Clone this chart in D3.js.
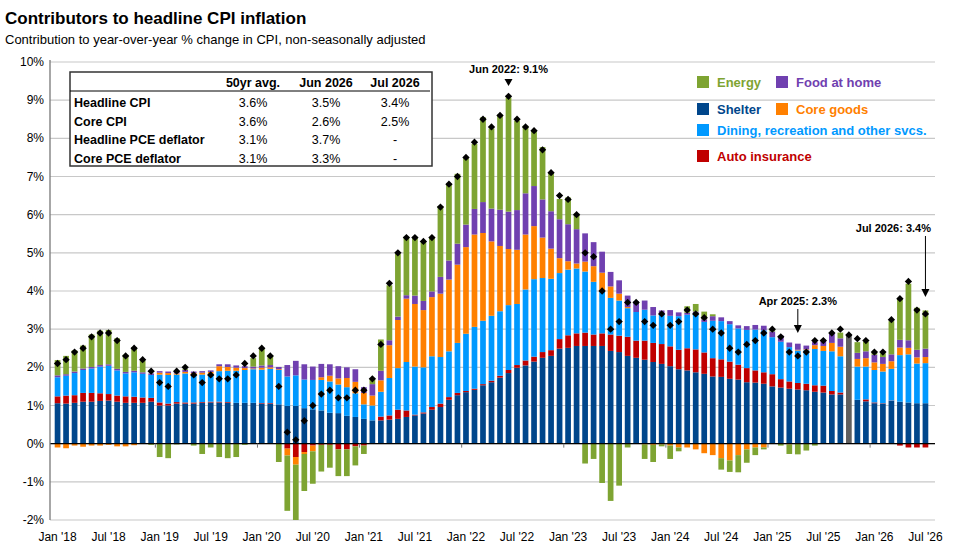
<!DOCTYPE html>
<html>
<head>
<meta charset="utf-8">
<script src="https://cdn.jsdelivr.net/npm/d3@7"></script>
<style>
  body { margin: 0; background: #fff; font-family: "Liberation Sans", Arial, sans-serif; }
</style>
</head>
<body>
<svg id="chart" width="963" height="559"></svg>
<script>
// monthly contributions (pp), Jan 2018 .. Jul 2026
var shelter = [
  1.06,1.05,1.07,1.1,1.1,1.12,1.13,1.1,1.07,1.07,1.07,1.1,
  1.0,1.0,1.05,1.05,1.05,1.07,1.08,1.08,1.07,1.07,1.07,1.07,
  1.04,1.04,1.03,0.99,0.99,0.93,0.9,0.87,0.81,0.8,0.73,0.7,
  0.65,0.61,0.61,0.63,0.65,0.7,0.74,0.79,0.89,0.96,1.15,1.27,
  1.35,1.41,1.53,1.61,1.73,1.85,1.99,2.05,2.15,2.25,2.3,2.49,
  2.51,2.56,2.56,2.56,2.56,2.43,2.4,2.3,2.25,2.2,2.14,2.09,
  2.03,1.95,1.92,1.87,1.83,1.76,1.75,1.7,1.68,1.61,1.6,1.57,
  1.5,1.47,1.44,1.42,1.4,1.36,1.34,1.29,1.29,0,1.15,1.11,
  1.06,1.05,1.12,1.1,1.08,1.06,1.06];
var autoIns = [
  .18,.21,.2,.23,.23,.2,.17,.16,.17,.16,.14,.1,
  .08,.05,.04,.03,.03,.02,.02,.02,.02,0,0,0,
  .02,.02,0,-.13,-.35,-.22,-.05,-.03,-.03,-.15,-.15,-.07,
  -.05,0,.1,.11,.24,.17,.02,.03,.07,.09,.07,.06,
  .03,.03,.03,.04,.05,.08,.07,.13,.13,.15,.15,.25,
  .33,.33,.35,.3,.33,.43,.43,.5,.45,.5,.5,.52,
  .52,.51,.58,.6,.56,.48,.46,.45,.39,.37,.32,.3,
  .32,.22,.19,.17,.17,.17,.18,.09,.05,0,0,.05,
  .02,.01,.01,-.05,-.1,-.1,-.1];
var dining = [
  .5,.52,.58,.6,.64,.7,.74,.66,.6,.64,.62,.6,
  .73,.75,.72,.76,.72,.72,.73,.8,.82,.84,.86,.88,
  .88,.9,.9,.77,.8,.75,.77,.8,.82,.75,.75,.62,
  .38,.39,.65,.98,1.09,1.27,1.26,1.18,1.33,1.22,1.2,1.31,
  1.5,1.62,1.66,1.7,1.69,1.7,1.6,1.86,2.03,1.94,1.87,1.73,
  1.72,1.7,1.6,1.38,1.09,.96,.92,.75,.75,.81,.72,.78,
  .8,.88,.88,.92,.8,.98,1.0,.98,.95,1.0,1.07,1.1,
  .97,.98,.9,.85,.88,.95,.91,1.04,.95,0,.87,.86,
  .85,.83,.83,1.22,1.26,1.04,1.05];
var coreGoods = [
  -.1,-.12,-.05,-.08,-.05,-.05,-.03,-.07,-.07,-.04,0,0,
  .05,.05,.03,.04,.05,.05,.05,.13,.1,.08,.05,.02,
  .05,.04,.02,-.18,-.2,-.05,-.15,.07,.15,.16,.24,.3,
  .3,.26,.3,.86,1.26,1.66,1.64,1.5,1.55,1.66,1.88,2.05,
  2.27,2.42,2.3,1.95,1.71,1.47,1.42,1.44,1.39,1.06,.79,.39,
  .22,.13,.26,.41,.5,.3,.18,.03,0,-.02,-.03,-.02,
  -.05,-.1,-.1,-.15,-.25,-.3,-.38,-.44,-.3,-.15,-.1,-.1,
  0,0,-.02,.02,.02,.1,.13,.22,.25,0,.2,.22,
  .2,.2,.2,.2,.17,.16,.16];
var foodHome = [
  .05,.04,.04,.04,.04,.04,.04,.04,.04,.04,.04,.04,
  .04,.04,.05,.05,.04,.04,.04,.05,.07,.06,.05,.05,
  .06,.06,.06,.3,.38,.4,.35,.35,.3,.32,.28,.33,
  .15,.3,.25,.13,.09,.09,.22,.24,.15,.44,.5,.55,
  .59,.67,.81,.86,.95,.98,1.04,1.08,1.05,1.0,.98,1.02,
  .97,.9,.74,.63,.55,.38,.35,.3,.28,.24,.22,.1,
  .15,.1,.05,.07,.07,.12,.1,.08,.08,.1,.12,.12,
  .15,.16,.12,.16,.1,.08,.13,.25,.22,0,.16,.18,
  .2,.18,.18,.2,.2,.2,.22];
var energy = [
  .4,.48,.55,.6,.85,.9,.9,.8,.45,.62,.3,-.03,
  -.35,-.38,-.02,.02,-.05,-.27,-.1,-.35,-.38,-.35,-.03,.22,
  .45,.25,-.48,-1.45,-1.45,-.97,-.85,-.7,-.6,-.7,-.7,-.5,
  -.22,.13,.82,1.44,1.64,1.53,1.53,1.54,1.42,1.85,2.02,1.83,
  1.74,1.7,2.22,2.1,2.49,2.99,2.34,1.77,1.47,1.37,1.0,.53,
  .7,.41,-.52,-.4,-1.03,-1.5,-1.1,-.1,0,-.38,-.45,-.05,
  -.35,-.1,.17,.2,.2,.05,-.3,-.3,-.45,-.35,-.2,-.05,
  .06,-.05,-.25,-.28,-.18,-.05,0,0,.15,0,.28,.25,
  .05,.1,.87,1.1,1.48,1.1,1.0];
// month with no component breakdown (Oct 2025)
var noBreakdown = { index: 93, value: 2.85 };
var headline = [
  2.1,2.2,2.4,2.5,2.8,2.9,2.9,2.7,2.3,2.5,2.2,1.9,
  1.6,1.5,1.9,2.0,1.8,1.6,1.8,1.7,1.7,1.8,2.1,2.3,
  2.5,2.3,1.5,0.3,0.1,0.6,1.0,1.3,1.4,1.2,1.2,1.4,
  1.4,1.7,2.6,4.2,5.0,5.4,5.4,5.3,5.4,6.2,6.8,7.0,
  7.5,7.9,8.5,8.3,8.6,9.1,8.5,8.3,8.2,7.7,7.1,6.5,
  6.4,6.0,5.0,4.9,4.0,3.0,3.2,3.7,3.7,3.2,3.1,3.4,
  3.1,3.2,3.5,3.4,3.3,3.0,2.9,2.5,2.4,2.6,2.7,2.9,
  3.0,2.8,2.4,2.3,2.4,2.7,2.7,2.9,3.0,2.85,2.75,2.7,
  2.4,2.4,3.25,3.8,4.25,3.5,3.4];

var yTicks = [-2,-1,0,1,2,3,4,5,6,7,8,9,10];
var tableCols = ['50yr avg.', 'Jun 2026', 'Jul 2026'];
var tableRows = ['Headline CPI', 'Core CPI', 'Headline PCE deflator', 'Core PCE deflator'];
var tableVals = [['3.6%','3.5%','3.4%'], ['3.6%','2.6%','2.5%'], ['3.1%','3.7%','-'], ['3.1%','3.3%','-']];

var series = [
  { name: 'Shelter', color: '#00468b', vals: shelter },
  { name: 'Auto insurance', color: '#c00000', vals: autoIns },
  { name: 'Dining, recreation and other svcs.', color: '#0099ff', vals: dining },
  { name: 'Core goods', color: '#ff8000', vals: coreGoods },
  { name: 'Food at home', color: '#7040b0', vals: foodHome },
  { name: 'Energy', color: '#7ea432', vals: energy }
];

var monthNames = ['Jan','Feb','Mar','Apr','May','Jun','Jul','Aug','Sep','Oct','Nov','Dec'];
var months = d3.range(headline.length);
function monthLabel(i) {
  return monthNames[i % 12] + " '" + String(18 + Math.floor(i / 12));
}

var svg = d3.select('#chart');
var plotL = 50, plotR = 935, plotT = 62, plotB = 520;

var x = d3.scaleBand().domain(months).range([plotL + 3, plotR - 5]).paddingInner(0.33).paddingOuter(0.2);
var y = d3.scaleLinear().domain([-2, 10]).range([plotB, plotT]);

// grid
svg.append('g').selectAll('line').data(yTicks).enter().append('line')
  .attr('x1', plotL).attr('x2', plotR)
  .attr('y1', function(d){ return y(d); }).attr('y2', function(d){ return y(d); })
  .attr('stroke', '#c8c8c8').attr('stroke-width', 1.2);

// y labels
svg.append('g').selectAll('text').data(yTicks).enter().append('text')
  .attr('x', plotL - 6).attr('y', function(d){ return y(d) + 4; })
  .attr('text-anchor', 'end').attr('font-size', 12).attr('fill', '#000')
  .text(function(d){ return d + '%'; });

// stacked bars, positives up and negatives down
var bars = svg.append('g');
months.forEach(function(i){
  var pos = 0, neg = 0;
  series.forEach(function(s){
    var v = s.vals[i];
    if (!v) return;
    var y0, y1;
    if (v > 0) { y0 = pos; y1 = pos + v; pos = y1; }
    else { y0 = neg + v; y1 = neg; neg = y0; }
    bars.append('rect')
      .attr('x', x(i)).attr('width', x.bandwidth())
      .attr('y', y(y1)).attr('height', y(y0) - y(y1))
      .attr('fill', s.color);
  });
});
bars.append('rect')
  .attr('x', x(noBreakdown.index)).attr('width', x.bandwidth())
  .attr('y', y(noBreakdown.value)).attr('height', y(0) - y(noBreakdown.value))
  .attr('fill', '#5f5f5f');

// axes
svg.append('line').attr('x1', plotL).attr('x2', plotR).attr('y1', y(0)).attr('y2', y(0))
  .attr('stroke', '#000').attr('stroke-width', 1.3);
svg.append('line').attr('x1', plotL).attr('x2', plotL).attr('y1', plotT - 2).attr('y2', plotB)
  .attr('stroke', '#777').attr('stroke-width', 1.3);

var xTicks = months.filter(function(i){ return i % 6 === 0; });
svg.append('g').selectAll('line').data(months.filter(function(i){ return i % 12 === 0 && i > 0; }))
  .enter().append('line')
  .attr('x1', function(i){ return x(i) - x.step() * 0.17; })
  .attr('x2', function(i){ return x(i) - x.step() * 0.17; })
  .attr('y1', y(0)).attr('y2', y(0) + 4).attr('stroke', '#777');
svg.append('g').selectAll('text').data(xTicks).enter().append('text')
  .attr('x', function(i){ return x(i) + x.bandwidth() / 2; })
  .attr('y', 541).attr('text-anchor', 'middle').attr('font-size', 12)
  .text(monthLabel);

// headline dots
var diamond = d3.symbol().type(d3.symbolDiamond2).size(34);
svg.append('g').selectAll('path').data(months).enter().append('path')
  .attr('d', diamond)
  .attr('transform', function(i){ return 'translate(' + (x(i) + x.bandwidth() / 2) + ',' + y(headline[i]) + ')'; })
  .attr('fill', '#000');

// annotations
function cx(i){ return x(i) + x.bandwidth() / 2; }
svg.append('text').attr('x', cx(53)).attr('y', 73).attr('text-anchor', 'middle')
  .attr('font-size', 11).attr('font-weight', 'bold').text('Jun 2022: 9.1%');
svg.append('path').attr('d', 'M' + (cx(53) - 4) + ',79 L' + (cx(53) + 4) + ',79 L' + cx(53) + ',86 Z').attr('fill', '#000');

svg.append('text').attr('x', cx(87)).attr('y', 305).attr('text-anchor', 'middle')
  .attr('font-size', 11).attr('font-weight', 'bold').text('Apr 2025: 2.3%');
svg.append('line').attr('x1', cx(87)).attr('x2', cx(87)).attr('y1', 309).attr('y2', 326).attr('stroke', '#000');
svg.append('path').attr('d', 'M' + (cx(87) - 4) + ',325 L' + (cx(87) + 4) + ',325 L' + cx(87) + ',333 Z').attr('fill', '#000');

svg.append('text').attr('x', 931).attr('y', 232).attr('text-anchor', 'end')
  .attr('font-size', 11).attr('font-weight', 'bold').text('Jul 2026: 3.4%');
svg.append('line').attr('x1', cx(102)).attr('x2', cx(102)).attr('y1', 236).attr('y2', 290).attr('stroke', '#000');
svg.append('path').attr('d', 'M' + (cx(102) - 4) + ',289 L' + (cx(102) + 4) + ',289 L' + cx(102) + ',297 Z').attr('fill', '#000');

// table
var tb = svg.append('g');
tb.append('rect').attr('x', 70).attr('y', 72).attr('width', 362).attr('height', 94)
  .attr('fill', '#fff').attr('stroke', '#333').attr('stroke-width', 1.5);
tb.append('line').attr('x1', 70).attr('x2', 430).attr('y1', 91).attr('y2', 91).attr('stroke', '#000');
var colX = [253, 326, 395];
tableCols.forEach(function(c, j){
  tb.append('text').attr('x', colX[j]).attr('y', 87).attr('text-anchor', 'middle')
    .attr('font-size', 12.5).attr('font-weight', 'bold').text(c);
});
tableRows.forEach(function(r, k){
  var ty = 107 + k * 18.5;
  tb.append('text').attr('x', 74).attr('y', ty).attr('font-size', 12.5).attr('font-weight', 'bold').text(r);
  tableVals[k].forEach(function(v, j){
    tb.append('text').attr('x', colX[j]).attr('y', ty).attr('text-anchor', 'middle').attr('font-size', 12.5).text(v);
  });
});

// legend
var legendItems = [
  { s: series[5], x: 697, y: 82 }, { s: series[4], x: 776, y: 82 },
  { s: series[0], x: 697, y: 109 }, { s: series[3], x: 776, y: 109 },
  { s: series[2], x: 697, y: 130 },
  { s: series[1], x: 697, y: 156 }
];
var lg = svg.append('g');
legendItems.forEach(function(it){
  lg.append('rect').attr('x', it.x).attr('y', it.y - 6).attr('width', 12).attr('height', 12).attr('fill', it.s.color);
  lg.append('text').attr('x', it.x + 20).attr('y', it.y + 5).attr('font-size', 13).attr('font-weight', 'bold')
    .attr('fill', it.s.color).text(it.s.name);
});

// titles
svg.append('text').attr('x', 5).attr('y', 24).attr('font-size', 17).attr('font-weight', 'bold')
  .text('Contributors to headline CPI inflation');
svg.append('text').attr('x', 5).attr('y', 44).attr('font-size', 13)
  .text('Contribution to year-over-year % change in CPI, non-seasonally adjusted');
</script>
</body>
</html>
